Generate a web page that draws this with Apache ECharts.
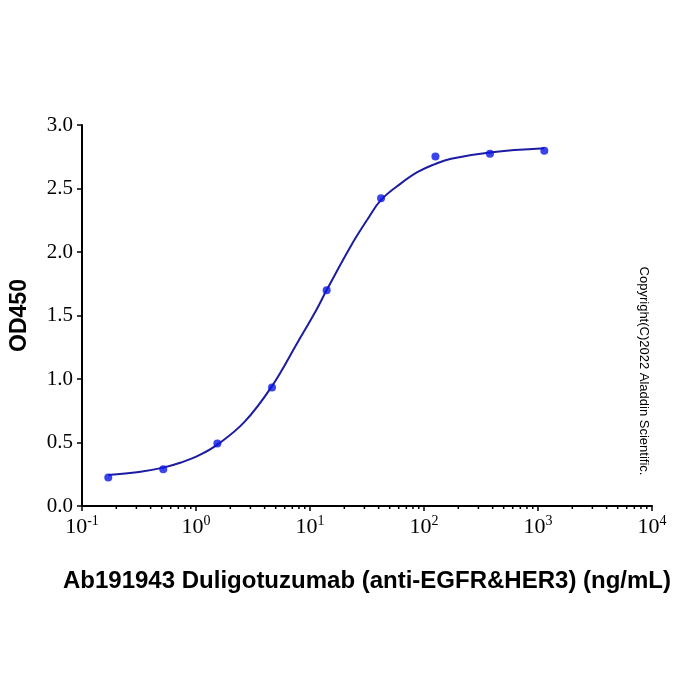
<!DOCTYPE html>
<html>
<head>
<meta charset="utf-8">
<script src="https://cdn.jsdelivr.net/npm/echarts@6/dist/echarts.min.js"></script>
<style>html,body{margin:0;padding:0;background:#fff}#c{width:700px;height:700px}</style>
</head>
<body>
<div id="c"></div>
<script>
// Measured points (concentration ng/mL, OD450)
const pointConc = [0.170, 0.516, 1.54, 4.64, 14.0, 42.0, 126, 379, 1136];
const pointOD   = [0.224, 0.289, 0.492, 0.934, 1.699, 2.424, 2.752, 2.774, 2.797];
// Fitted curve
const curveConc = [0.170, 0.316, 0.516, 0.738, 1.07, 1.55, 2.65, 4.61, 7.80, 11.3, 14.0, 22.9, 32.1, 42.0, 62.8, 88.1, 123, 173, 379, 1135];
const curveOD   = [0.245, 0.268, 0.302, 0.342, 0.400, 0.485, 0.660, 0.940, 1.29, 1.54, 1.70, 2.05, 2.26, 2.41, 2.54, 2.63, 2.69, 2.735, 2.784, 2.816];
// Minor tick positions on the log axis
const minorTickValues = [0.2,0.3,0.4,0.5,0.6,0.7,0.8,0.9, 2,3,4,5,6,7,8,9, 20,30,40,50,60,70,80,90, 200,300,400,500,600,700,800,900, 2000,3000,4000,5000,6000,7000,8000,9000];
const xTitle = 'Ab191943 Duligotuzumab (anti-EGFR&HER3) (ng/mL)';
const yTitle = 'OD450';
const copyright = 'Copyright(C)2022 Aladdin Scientific.';

const serif = 'Liberation Serif, Times New Roman, serif';
const sans = 'Liberation Sans, Arial, sans-serif';

const chart = echarts.init(document.getElementById('c'));
chart.setOption({
  backgroundColor: '#fff',
  animation: false,
  grid: { left: 81, right: 48, top: 125, bottom: 194 },
  xAxis: {
    type: 'log', logBase: 10, min: 0.1, max: 10000,
    name: xTitle, nameLocation: 'middle', nameGap: 63,
    nameTextStyle: { fontFamily: sans, fontWeight: 'bold', fontSize: 24, color: '#000' },
    axisLine: { show: true, lineStyle: { color: '#000', width: 2 } },
    axisTick: { show: true, inside: false, length: 5, lineStyle: { color: '#000', width: 1.5 } },
    splitLine: { show: false },
    minorTick: { show: false },
    axisLabel: {
      margin: 8,
      formatter: function (v) {
        const e = Math.round(Math.log10(v));
        return '{b|10}{s|' + e + '}';
      },
      rich: {
        b: { fontFamily: serif, fontSize: 22, color: '#000', verticalAlign: 'bottom', lineHeight: 24 },
        s: { fontFamily: serif, fontSize: 14, color: '#000', verticalAlign: 'top', lineHeight: 24 }
      }
    }
  },
  yAxis: {
    type: 'value', min: 0, max: 3, interval: 0.5,
    name: yTitle, nameLocation: 'middle', nameGap: 51, nameRotate: 90,
    nameTextStyle: { fontFamily: sans, fontWeight: 'bold', fontSize: 23, color: '#000' },
    axisLine: { show: true, lineStyle: { color: '#000', width: 2 } },
    axisTick: { show: true, inside: false, length: 5, lineStyle: { color: '#000', width: 1.5 } },
    splitLine: { show: false },
    axisLabel: {
      margin: 9,
      fontFamily: serif, fontSize: 21, color: '#000',
      formatter: function (v) { return v.toFixed(1); }
    }
  },
  graphic: [{
    type: 'text', x: 644, y: 371, rotation: -Math.PI / 2,
    style: { text: copyright, fontFamily: sans, fontSize: 13, fill: '#000', align: 'center', verticalAlign: 'middle' }
  }],
  series: [
    {
      type: 'line', name: 'fit',
      data: curveConc.map((c, i) => [c, curveOD[i]]),
      smooth: 0.4, showSymbol: false, symbol: 'none',
      lineStyle: { color: '#1c1ca0', width: 2 },
      z: 2
    },
    {
      type: 'scatter', name: 'data',
      data: pointConc.map((c, i) => [c, pointOD[i]]),
      symbol: 'circle', symbolSize: 8,
      itemStyle: { color: '#0a14e6' },
      z: 3
    },
    {
      type: 'custom', name: 'minorTicks', silent: true, clip: false,
      data: minorTickValues.map(v => [v, 0]),
      renderItem: function (params, api) {
        const p = api.coord([api.value(0), 0]);
        return { type: 'line', shape: { x1: p[0], y1: p[1], x2: p[0], y2: p[1] + 3 }, style: { stroke: '#000', lineWidth: 1.5 } };
      },
      z: 5
    }
  ]
});
</script>
</body>
</html>
